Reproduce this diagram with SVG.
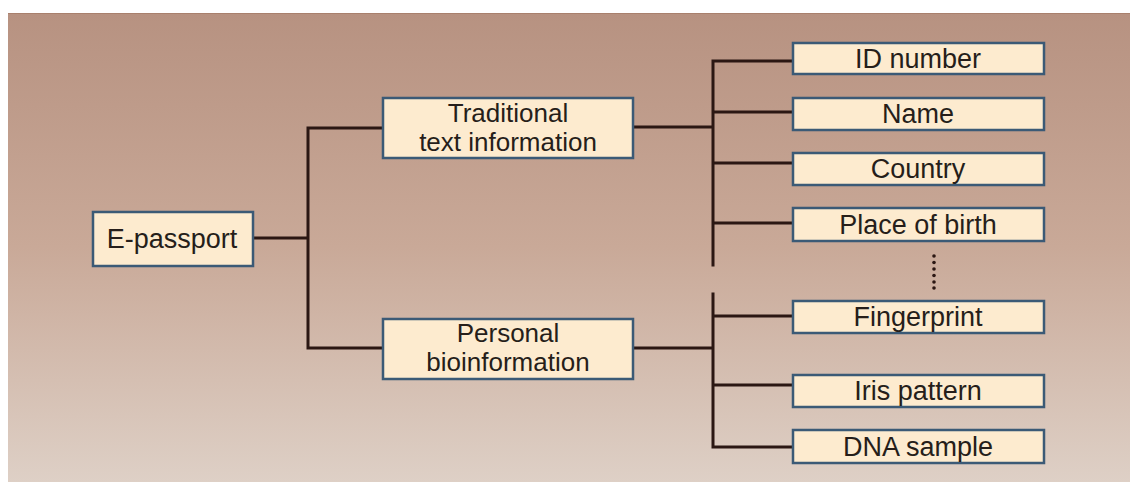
<svg xmlns="http://www.w3.org/2000/svg" width="1130" height="482" viewBox="0 0 1130 482">
  <defs>
    <linearGradient id="bg" x1="0" y1="0" x2="0" y2="1">
      <stop offset="0" stop-color="#b79281"/>
      <stop offset="0.5" stop-color="#c9a998"/>
      <stop offset="1" stop-color="#ded0c6"/>
    </linearGradient>
    <style>
      .box { fill: #fdebcf; stroke: #3b5a76; stroke-width: 2.5; }
      .lbl { font-family: "Liberation Sans", Arial, sans-serif; font-size: 27px; fill: #261e1a; text-anchor: middle; }
      .lbl2 { font-size: 26px; }
      .wire { fill: none; stroke: #2b1713; stroke-width: 3; stroke-linecap: square; }
      .dot { fill: #2b1713; }
    </style>
  </defs>

  <!-- panel background -->
  <rect x="0" y="0" width="1130" height="482" fill="#ffffff"/>
  <rect x="8" y="13" width="1122" height="469" fill="url(#bg)"/>
  <line x1="8" y1="13.5" x2="1130" y2="13.5" stroke="#a9806d" stroke-width="1"/>

  <!-- connectors -->
  <g id="connectors">
    <path class="wire" d="M253 238 H308 M308 128 V348 M308 128 H383 M308 348 H383"/>
    <path class="wire" d="M633 127 H713 M713 61 V265 M713 61 H793 M713 112 H793 M713 163 H793 M713 223 H793"/>
    <path class="wire" d="M633 348 H713 M713 294 V447 H793 M713 316 H793 M713 385 H793"/>
    <g id="ellipsis">
      <circle class="dot" cx="934" cy="256" r="1.8"/>
      <circle class="dot" cx="934" cy="262.5" r="1.8"/>
      <circle class="dot" cx="934" cy="269" r="1.8"/>
      <circle class="dot" cx="934" cy="275.5" r="1.8"/>
      <circle class="dot" cx="934" cy="282" r="1.8"/>
      <circle class="dot" cx="934" cy="288" r="1.8"/>
    </g>
  </g>

  <g id="e-passport">
    <rect class="box" x="93" y="212" width="160" height="54"/>
    <text class="lbl" x="172" y="248">E-passport</text>
  </g>

  <g id="traditional">
    <rect class="box" x="383" y="98" width="250" height="60"/>
    <text class="lbl lbl2" x="508" y="122">Traditional</text>
    <text class="lbl lbl2" x="508" y="151">text information</text>
  </g>

  <g id="personal">
    <rect class="box" x="383" y="319" width="250" height="60"/>
    <text class="lbl lbl2" x="508" y="342">Personal</text>
    <text class="lbl lbl2" x="508" y="371">bioinformation</text>
  </g>

  <g id="id-number">
    <rect class="box" x="793" y="43" width="251" height="31"/>
    <text class="lbl" x="918" y="68">ID number</text>
  </g>

  <g id="name">
    <rect class="box" x="793" y="98" width="251" height="32"/>
    <text class="lbl" x="918" y="123">Name</text>
  </g>

  <g id="country">
    <rect class="box" x="793" y="153" width="251" height="32"/>
    <text class="lbl" x="918" y="178">Country</text>
  </g>

  <g id="place-of-birth">
    <rect class="box" x="793" y="208" width="251" height="33"/>
    <text class="lbl" x="918" y="234">Place of birth</text>
  </g>

  <g id="fingerprint">
    <rect class="box" x="793" y="301" width="251" height="32"/>
    <text class="lbl" x="918" y="326">Fingerprint</text>
  </g>

  <g id="iris-pattern">
    <rect class="box" x="793" y="375" width="251" height="32"/>
    <text class="lbl" x="918" y="400">Iris pattern</text>
  </g>

  <g id="dna-sample">
    <rect class="box" x="793" y="430" width="251" height="33"/>
    <text class="lbl" x="918" y="456">DNA sample</text>
  </g>
</svg>
